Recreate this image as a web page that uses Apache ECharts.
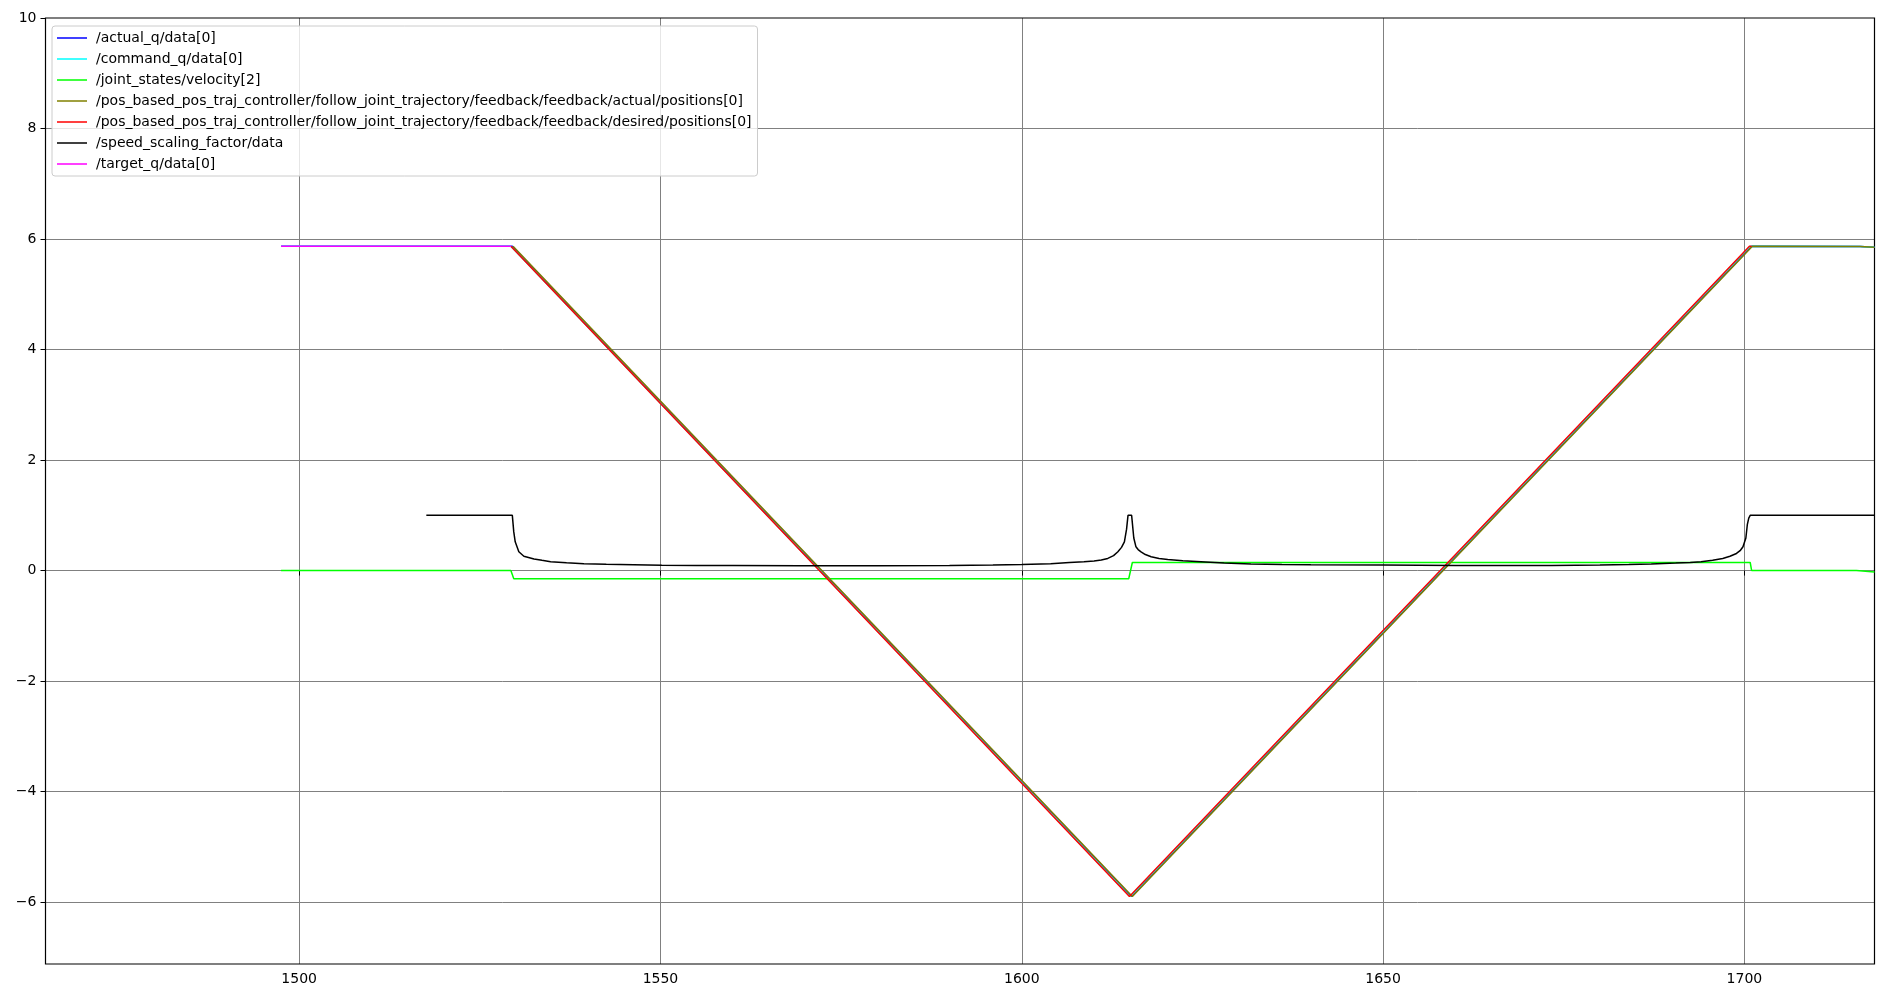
<!DOCTYPE html>
<html>
<head>
<meta charset="utf-8">
<script src="https://cdn.jsdelivr.net/npm/echarts@6/dist/echarts.min.js"></script>
<style>
html,body{margin:0;padding:0;background:#fff;}
#chart{width:1892px;height:1003px;}
</style>
</head>
<body>
<div id="chart"></div>
<script>
// ---- data ----
const seriesNames = [
  '/actual_q/data[0]',
  '/command_q/data[0]',
  '/joint_states/velocity[2]',
  '/pos_based_pos_traj_controller/follow_joint_trajectory/feedback/feedback/actual/positions[0]',
  '/pos_based_pos_traj_controller/follow_joint_trajectory/feedback/feedback/desired/positions[0]',
  '/speed_scaling_factor/data',
  '/target_q/data[0]'
];
const seriesColors = ['#0000ff', '#00ffff', '#00ff00', '#808000', '#ff0000', '#000000', '#ff00ff'];

const actualQTime  = [1497.5, 1529.5, 1615.2, 1701.0, 1716.0, 1718.0];
const actualQVal   = [5.868, 5.868, -5.90, 5.870, 5.865, 5.850];
const commandQTime = [1497.5, 1529.3, 1615.0, 1700.8, 1716.0, 1718.0];
const commandQVal  = [5.868, 5.868, -5.90, 5.870, 5.865, 5.850];

const velTime = [1497.5, 1529.3, 1529.7, 1614.8, 1615.3, 1700.8, 1701.0, 1715.5, 1718.0];
const velVal  = [0.0, 0.0, -0.148, -0.148, 0.146, 0.146, 0.0, 0.0, -0.025];

const fbActualTime  = [1529.6, 1615.3, 1701.1, 1716.0, 1718.0];
const fbActualVal   = [5.868, -5.90, 5.870, 5.865, 5.850];
const fbDesiredTime = [1529.3, 1614.9, 1700.7, 1701.0];
const fbDesiredVal  = [5.868, -5.90, 5.870, 5.870];

const scaleTime = [1517.6, 1529.5, 1529.7, 1529.9, 1530.4, 1531.1, 1532.5, 1533.6, 1534.8, 1537.0, 1539.4,
  1542.5, 1546.3, 1550.2, 1555.0, 1560.0, 1569.4, 1580.0, 1590.0, 1596.0, 1600.0, 1604.0, 1606.6, 1608.6,
  1610.0, 1611.0, 1611.9, 1612.7, 1613.3, 1613.8, 1614.2, 1614.5, 1614.7, 1615.2, 1615.5, 1615.8, 1616.1,
  1616.5, 1617.1, 1617.9, 1619.0, 1620.2, 1622.3, 1624.8, 1628.0, 1631.7, 1636.0, 1640.0, 1650.0, 1660.0,
  1673.3, 1680.0, 1684.0, 1687.1, 1690.5, 1692.5, 1694.0, 1695.6, 1697.0, 1698.0, 1698.9, 1699.4, 1699.8,
  1700.2, 1700.4, 1700.6, 1700.8, 1718.0];
const scaleVal = [1.0, 1.0, 0.70, 0.52, 0.34, 0.26, 0.21, 0.185, 0.16, 0.14, 0.125,
  0.113, 0.105, 0.098, 0.093, 0.090, 0.087, 0.087, 0.093, 0.100, 0.110, 0.125, 0.145, 0.16,
  0.175, 0.19, 0.22, 0.27, 0.34, 0.42, 0.52, 0.75, 1.0, 1.0, 0.59, 0.43, 0.38,
  0.34, 0.29, 0.25, 0.22, 0.20, 0.178, 0.16, 0.137, 0.12, 0.11, 0.105, 0.100, 0.093,
  0.090, 0.100, 0.108, 0.12, 0.135, 0.148, 0.16, 0.185, 0.22, 0.26, 0.31, 0.36, 0.43,
  0.59, 0.83, 0.95, 1.0, 1.0];

const targetQTime = [1497.5, 1529.3];
const targetQVal  = [5.868, 5.868];

const xTickStep = 50;
const yTickStep = 2;

// ---- build ----
function pairs(t, v) { return t.map((x, i) => [x, v[i]]); }
const allData = [
  pairs(actualQTime, actualQVal),
  pairs(commandQTime, commandQVal),
  pairs(velTime, velVal),
  pairs(fbActualTime, fbActualVal),
  pairs(fbDesiredTime, fbDesiredVal),
  pairs(scaleTime, scaleVal),
  pairs(targetQTime, targetQVal)
];

const font = 'DejaVu Sans';
const chart = echarts.init(document.getElementById('chart'), null, {renderer: 'canvas'});
chart.setOption({
  animation: false,
  backgroundColor: '#ffffff',
  grid: {
    left: 45.5, right: 17.5, top: 18, bottom: 39,
    show: true, borderColor: '#000', borderWidth: 1.2, backgroundColor: 'transparent',
    containLabel: false, z: 3
  },
  legend: {
    orient: 'vertical',
    left: 52, top: 26,
    padding: [4, 6, 4, 5],
    itemGap: 5,
    itemWidth: 30, itemHeight: 1.5,
    icon: 'rect',
    backgroundColor: 'rgba(255,255,255,0.8)',
    borderColor: '#cccccc', borderWidth: 1, borderRadius: 3,
    textStyle: {fontFamily: font, fontSize: 14, color: '#000', lineHeight: 16, padding: [0, 0, 0, 4]},
    data: seriesNames.map((n, i) => ({name: n, itemStyle: {color: seriesColors[i]}}))
  },
  xAxis: {
    type: 'value', min: 1464.9, max: 1718,
    minInterval: xTickStep, maxInterval: xTickStep,
    axisLine: {show: false},
    axisTick: {show: true, length: 5, lineStyle: {color: '#000', width: 1}},
    axisLabel: {
      fontFamily: font, fontSize: 14, color: '#000', margin: 8,
      showMinLabel: false, showMaxLabel: false,
      formatter: v => (Math.abs(v % xTickStep) < 1e-9 ? String(v) : '')
    },
    splitLine: {show: true, showMinLine: false, showMaxLine: false, lineStyle: {color: '#808080', width: 1}}
  },
  yAxis: {
    type: 'value', min: -7.12, max: 10,
    minInterval: yTickStep, maxInterval: yTickStep,
    axisLine: {show: false},
    axisTick: {show: true, length: 5, lineStyle: {color: '#000', width: 1}},
    axisLabel: {
      fontFamily: font, fontSize: 14, color: '#000', margin: 9,
      showMinLabel: false,
      formatter: v => (Math.abs(v % yTickStep) < 1e-9 ? (v < 0 ? '\u2212' + Math.abs(v) : String(v)) : '')
    },
    splitLine: {show: true, showMinLine: false, showMaxLine: false, lineStyle: {color: '#808080', width: 1}}
  },
  series: allData.map((d, i) => ({
    name: seriesNames[i],
    type: 'line',
    data: d,
    symbol: 'none',
    showSymbol: false,
    smooth: false,
    clip: true,
    lineStyle: {color: seriesColors[i], width: 1.5},
    itemStyle: {color: seriesColors[i]},
    emphasis: {disabled: true}
  }))
});
</script>
</body>
</html>
